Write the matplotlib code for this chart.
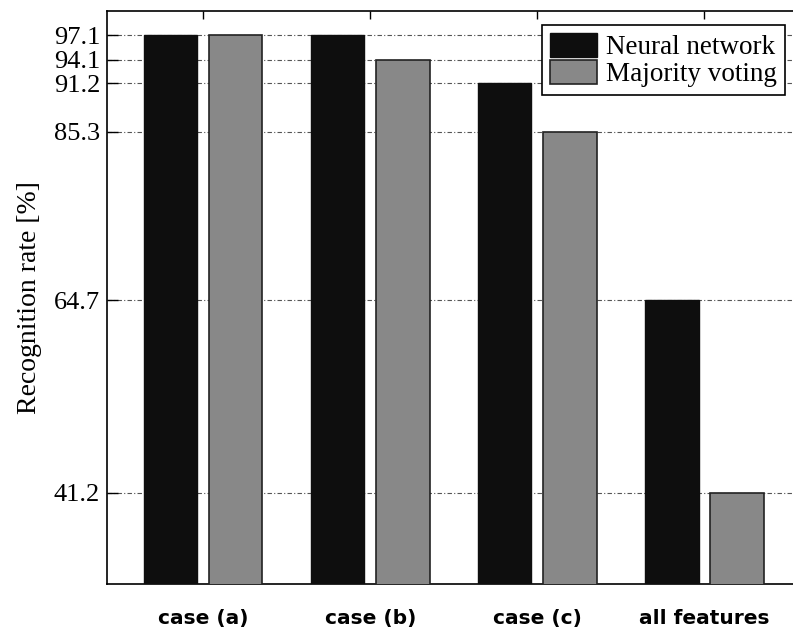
import matplotlib.pyplot as plt
import numpy as np

categories = ['case (a)', 'case (b)', 'case (c)', 'all features']
neural_network = [97.1, 97.1, 91.2, 64.7]
majority_voting = [97.1, 94.1, 85.3, 41.2]
ytick_values = [41.2, 64.7, 85.3, 91.2, 94.1, 97.1]

serif = 'Liberation Serif'

fig = plt.figure(figsize=(7.93, 6.27), dpi=100)
ax = fig.add_axes([0.135, 0.068, 0.865, 0.914])

x = np.arange(len(categories))
w = 0.32
off = 0.195
ax.bar(x - off, neural_network, w, color='#0e0e0e', edgecolor='#0e0e0e',
       linewidth=1, label='Neural network', zorder=3)
ax.bar(x + off, majority_voting, w, color='#888888', edgecolor='#222222',
       linewidth=1.2, label='Majority voting', zorder=3)

ax.set_xlim(-0.575, 3.53)
ax.set_ylim(30, 100)

ax.set_yticks(ytick_values)
ax.set_yticklabels([f'{v:.1f}' for v in ytick_values], fontfamily=serif, fontsize=19)
ax.yaxis.grid(True, color='#555555', linestyle=(0, (4, 2, 1, 2)), linewidth=0.8, zorder=0)
ax.tick_params(axis='y', direction='in', length=8, width=1, pad=5)

ax.set_xticks(x)
ax.set_xticklabels(categories, fontfamily='DejaVu Sans', fontweight='bold', fontsize=14.5)
ax.tick_params(axis='x', direction='in', bottom=False, top=True, length=6, width=1,
               labelbottom=True, labeltop=False, pad=18)

ax.set_ylabel('Recognition rate [%]', fontfamily=serif, fontsize=20)
ax.yaxis.set_label_coords(-0.095, 0.5)

for s in ax.spines.values():
    s.set_linewidth(1.2)
ax.spines['right'].set_visible(False)

leg = ax.legend(loc='upper left', bbox_to_anchor=(0.634, 0.976), borderaxespad=0,
                prop={'family': serif, 'size': 19.5}, frameon=True, fancybox=False,
                edgecolor='black', handlelength=1.75, handleheight=0.95,
                handletextpad=0.3, labelspacing=0.0, borderpad=0.3)
leg.get_frame().set_linewidth(1.2)
leg.get_frame().set_alpha(1)

fig.savefig('out.png', dpi=100)
